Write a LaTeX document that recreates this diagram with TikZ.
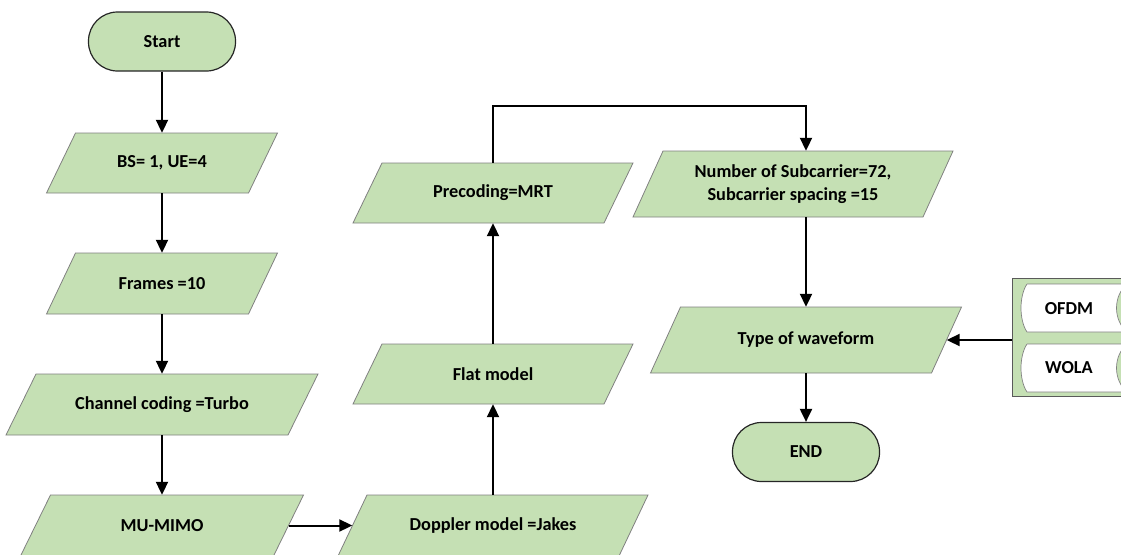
\documentclass[tikz,border=0pt]{standalone}
\usepackage{fontspec}
\setmainfont{Carlito}
\usetikzlibrary{arrows.meta}
\definecolor{gfill}{HTML}{C5E0B4}
\definecolor{gedge}{HTML}{808080}
\tikzset{
  txt/.style={rectangle,inner sep=0pt,align=center,font=\fontsize{18.3}{23}\selectfont\bfseries},
  term/.style={txt,draw=black!85,line width=1.2pt,fill=gfill,rounded corners=29pt,minimum width=147pt,minimum height=59pt},
  parafill/.style={fill=gfill,draw=gedge,line width=0.8pt},
  arr/.style={line width=2pt,-{Triangle[length=13pt,width=12pt]}},
  tape/.style={fill=white,draw=gedge,line width=0.7pt},
  panelbox/.style={fill=gfill,draw=gedge!70!black,line width=1pt,inner sep=0pt}
}
% name, cx, cy, w, h, slant, text
\newcommand\paranode[7]{%
  \path[parafill] ({#2-#4/2+#6/2},{#3-#5/2}) -- ({#2+#4/2+#6/2},{#3-#5/2})
     -- ({#2+#4/2-#6/2},{#3+#5/2}) -- ({#2-#4/2-#6/2},{#3+#5/2}) -- cycle;
  \node[txt,minimum width=#4pt,minimum height=#5pt] (#1) at (#2,#3) {#7};}
\begin{document}
\begin{tikzpicture}[x=1pt,y=-1pt]
\useasboundingbox (0,0) rectangle (1121,554);
\clip (0,0) rectangle (1121,554);
% terminators
\node[term] (start) at (162,41.5) {Start};
\node[term] (end) at (806,452) {END};
% left column
\paranode{bs}{162}{163}{202}{60}{29}{BS= 1, UE=4}
\paranode{frames}{162}{283.5}{202}{61}{29}{Frames =10}
\paranode{chan}{162}{404.5}{282}{61}{30}{Channel coding =Turbo}
\paranode{mumimo}{162}{525.5}{253}{61}{30}{MU-MIMO}
% middle column
\paranode{doppler}{493}{525.5}{281}{61}{29}{Doppler model =Jakes}
\paranode{flat}{493}{374}{251}{60}{29}{Flat model}
\paranode{prec}{493}{193}{251}{60}{29}{Precoding=MRT}
% right column
\paranode{number}{793}{184}{290}{66}{30}{Number of Subcarrier=72,\\Subcarrier spacing =15}
\paranode{type}{806}{340}{281}{66}{30}{Type of waveform}
% waveform panel
\node[panelbox,anchor=north west,minimum width=130pt,minimum height=118pt] (panel) at (1012,278) {};
\path[tape] (1027,284) -- (1127,284) .. controls (1113,296) and (1113,320) .. (1127,332)
   -- (1027,332) .. controls (1019,320) and (1019,296) .. (1027,284);
\path[tape] (1027,344) -- (1127,344) .. controls (1113,356) and (1113,380) .. (1127,392)
   -- (1027,392) .. controls (1019,380) and (1019,356) .. (1027,344);
\node[txt] (ofdm) at (1069,309) {OFDM};
\node[txt] (wola) at (1069,368) {WOLA};
% connectors
\draw[arr] (start.south) -- (bs.north);
\draw[arr] (bs.south) -- (frames.north);
\draw[arr] (frames.south) -- (chan.north);
\draw[arr] (chan.south) -- (mumimo.north);
\draw[arr] (mumimo.east) -- (doppler.west);
\draw[arr] (doppler.north) -- (flat.south);
\draw[arr] (flat.north) -- (prec.south);
\coordinate (elb) at (493,106);
\draw[arr] (prec.north) -- (elb) -| (number.north -| type.north);
\draw[arr] (number.south -| type.north) -- (type.north);
\draw[arr] (type.south) -- (end.north);
\draw[arr] (type.east -| panel.west) -- (type.east);
\end{tikzpicture}
\end{document}
